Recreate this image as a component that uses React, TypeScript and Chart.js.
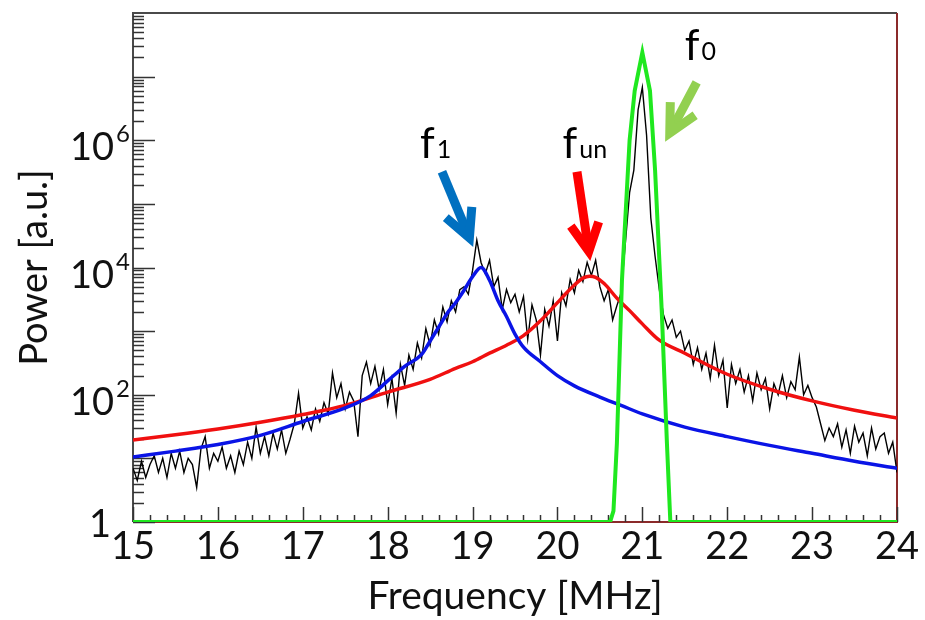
import React, { useEffect, useRef } from "react";
import { Chart, registerables } from "chart.js";

Chart.register(...registerables);

// ---------- axis ranges & tick labels ----------
const FREQ_MIN = 15;
const FREQ_MAX = 24;
const POWER_MIN = 1;
const POWER_MAX = 1e8;
const Y_LABEL_VALUES = [1, 1e2, 1e4, 1e6];
const Y_LABEL_BASES = ["1", "10", "10", "10"];
const Y_LABEL_EXPONENTS = ["", "2", "4", "6"];

// ---------- measured spectrum (black), sampled every 0.05 MHz from 15 MHz ----------
const SPECTRUM_START = 15;
const SPECTRUM_STEP = 0.05;
const SPECTRUM_POWER = [
  7, 4.5, 9, 5, 8, 11, 6, 10, 5, 12,
  7, 13, 6, 10, 8, 3.5, 14, 22, 7, 12,
  9, 15, 7, 11, 6, 13, 8, 18, 10, 31,
  12, 22, 11, 25, 14, 28, 12, 20, 35, 106,
  30, 45, 28, 60, 38, 75, 50, 220, 90, 150,
  60, 110, 80, 22, 200, 326, 150, 280, 120, 250,
  70, 180, 51, 300, 140, 420, 250, 650, 380, 1100,
  600, 1500, 900, 2400, 1400, 3000, 2000, 4500, 5000, 3800,
  9000, 27000, 12000, 8000, 13000, 5000, 7000, 2200, 4500, 2800,
  3800, 2000, 3500, 750, 2600, 1500, 420, 2200, 1200, 3000,
  700, 4000, 2500, 6500, 4000, 9000, 6000, 12000, 7500, 13000,
  5000, 3000, 4500, 1500, 2500, 4000, 24000, 150000, 340000, 3000000,
  6800000, 1200000, 60000, 15000, 4500, 1800, 1100, 1500, 800, 1000,
  500, 700, 300, 550, 250, 450, 180, 600, 200, 350,
  62, 300, 150, 250, 110, 200, 80, 220, 120, 180,
  60, 150, 100, 200, 90, 160, 120, 390, 100, 140,
  90, 64, 35, 19, 30, 22, 35, 15, 28, 12,
  32, 18, 25, 11, 30, 14, 22, 25, 12, 18,
  6,
];

// ---------- fit f_un (red) ----------
const FIT_UN_FREQ = [15, 15.5, 16, 16.5, 17, 17.5, 18, 18.5, 18.8, 19, 19.2, 19.4, 19.6, 19.8, 20, 20.1, 20.2, 20.3, 20.38, 20.45, 20.55, 20.7, 20.85, 21, 21.2, 21.5, 22, 22.5, 23, 23.5, 24];
const FIT_UN_POWER = [19.5, 23.5, 29, 37, 49, 68, 110, 175, 260, 330, 450, 600, 850, 1450, 2800, 3900, 5300, 6800, 7300, 7000, 5600, 3300, 2100, 1300, 720, 450, 210, 122, 80, 57, 43];

// ---------- fit f1 (blue) ----------
const FIT_1_FREQ = [15, 15.5, 16, 16.5, 17, 17.5, 17.8, 18, 18.2, 18.4, 18.5, 18.6, 18.7, 18.8, 18.9, 19, 19.1, 19.2, 19.3, 19.4, 19.5, 19.6, 19.8, 20, 20.2, 20.5, 20.75, 21, 21.5, 22, 22.5, 23, 23.5, 24];
const FIT_1_POWER = [10.5, 13, 16.5, 23, 38, 62, 97, 165, 280, 430, 700, 1150, 1900, 2800, 4400, 7200, 10000, 6300, 3000, 1700, 900, 560, 330, 200, 138, 92, 68, 50, 31, 22, 16, 12, 9, 7];

// ---------- f0 line (green) ----------
const F0_FREQ = [15, 20.62, 20.66, 20.7, 20.76, 20.85, 20.91, 21.0, 21.09, 21.15, 21.23, 21.29, 21.33, 24];
const F0_POWER = [1, 1, 1.5, 17, 6300, 1e6, 6e6, 2.4e7, 6e6, 3.4e5, 1900, 17, 1, 1];

// ---------- annotations ----------
const ANNOT_LABELS = [
  { base: "f", sub: "1", freq: 18.38, power: 5.2e5 },
  { base: "f", sub: "un", freq: 20.06, power: 5.2e5 },
  { base: "f", sub: "0", freq: 21.5, power: 1.8e7 },
];
const ANNOT_ARROWS = [
  { fromF: 18.64, fromP: 3.2e5, toF: 18.99, toP: 2.4e4, color: "#0070C0" },
  { fromF: 20.23, fromP: 3.2e5, toF: 20.38, toP: 1.45e4, color: "#FF0000" },
  { fromF: 21.64, fromP: 8.1e6, toF: 21.29, toP: 1.07e6, color: "#92D050" },
];

const FONT = "Lato, 'Open Sans', 'DejaVu Sans', sans-serif";

function zip(xs: number[], ys: number[]) {
  return xs.map((x, i) => ({ x, y: ys[i] }));
}

const framePlugin = {
  id: "frameTicks",
  beforeDatasetsDraw(chart: any) {
    const { ctx, chartArea, scales } = chart;
    const { left, right, top, bottom } = chartArea;
    const xs = scales.x;
    const ys = scales.y;
    ctx.save();
    // frame
    ctx.lineWidth = 2;
    ctx.strokeStyle = "#4a4a4a";
    ctx.beginPath();
    ctx.moveTo(left, bottom);
    ctx.lineTo(left, top);
    ctx.lineTo(right, top);
    ctx.stroke();
    ctx.strokeStyle = "#8b2a2a";
    ctx.beginPath();
    ctx.moveTo(right, top);
    ctx.lineTo(right, bottom);
    ctx.lineTo(left, bottom);
    ctx.stroke();
    // x ticks (inward)
    ctx.strokeStyle = "#333";
    ctx.lineWidth = 1.5;
    for (let i = 0; i <= 45; i++) {
      const v = FREQ_MIN + i * 0.2;
      const px = Math.round(xs.getPixelForValue(v)) + 0.5;
      const len = i % 5 === 0 ? 15 : 7;
      ctx.beginPath();
      ctx.moveTo(px, bottom);
      ctx.lineTo(px, bottom - len);
      ctx.stroke();
    }
    // y ticks (inward)
    for (let d = 0; d < 8; d++) {
      for (let m = 1; m <= 9; m++) {
        const v = m * Math.pow(10, d);
        const py = Math.round(ys.getPixelForValue(v)) + 0.5;
        const len = m === 1 ? 22 : 11;
        ctx.beginPath();
        ctx.moveTo(left, py);
        ctx.lineTo(left + len, py);
        ctx.stroke();
      }
    }
    ctx.restore();
  },
  afterDraw(chart: any) {
    const { ctx, chartArea, scales } = chart;
    const xs = scales.x;
    const ys = scales.y;
    ctx.save();
    // y tick labels with exponents
    ctx.fillStyle = "#111";
    Y_LABEL_VALUES.forEach((v, i) => {
      const py = ys.getPixelForValue(v);
      const base = Y_LABEL_BASES[i];
      const exp = Y_LABEL_EXPONENTS[i];
      ctx.textBaseline = "alphabetic";
      if (!exp) {
        ctx.font = `38px ${FONT}`;
        ctx.textAlign = "right";
        ctx.fillText(base, chartArea.left - 22, py + 15);
      } else {
        ctx.font = `38px ${FONT}`;
        ctx.textAlign = "right";
        ctx.fillText(base, chartArea.left - 19, py + 20);
        ctx.font = `24px ${FONT}`;
        ctx.textAlign = "left";
        ctx.fillText(exp, chartArea.left - 17, py + 2);
      }
    });
    // arrows
    ANNOT_ARROWS.forEach((a) => {
      const x1 = xs.getPixelForValue(a.fromF);
      const y1 = ys.getPixelForValue(a.fromP);
      let x2 = xs.getPixelForValue(a.toF);
      let y2 = ys.getPixelForValue(a.toP);
      const ang = Math.atan2(y1 - y2, x1 - x2);
      // pull the tip back so the mitred point lands on target
      x2 += 6 * Math.cos(ang);
      y2 += 6 * Math.sin(ang);
      const L = 31;
      const spread = (27 * Math.PI) / 180;
      ctx.strokeStyle = a.color;
      ctx.lineWidth = 9;
      ctx.lineCap = "butt";
      ctx.lineJoin = "miter";
      ctx.beginPath();
      ctx.moveTo(x1, y1);
      ctx.lineTo(x2, y2);
      ctx.stroke();
      ctx.beginPath();
      ctx.moveTo(x2 + L * Math.cos(ang + spread), y2 + L * Math.sin(ang + spread));
      ctx.lineTo(x2, y2);
      ctx.lineTo(x2 + L * Math.cos(ang - spread), y2 + L * Math.sin(ang - spread));
      ctx.stroke();
    });
    // labels f1, fun, f0
    ctx.fillStyle = "#000";
    ctx.textAlign = "left";
    ctx.textBaseline = "alphabetic";
    ANNOT_LABELS.forEach((l) => {
      const px = xs.getPixelForValue(l.freq);
      const py = ys.getPixelForValue(l.power);
      ctx.font = `42px ${FONT}`;
      ctx.fillText(l.base, px, py);
      const w = ctx.measureText(l.base).width;
      ctx.font = `25px ${FONT}`;
      ctx.fillText(l.sub, px + w + 2, py);
    });
    ctx.restore();
  },
};

export default function App() {
  const canvasRef = useRef<HTMLCanvasElement | null>(null);

  useEffect(() => {
    const canvas = canvasRef.current;
    if (!canvas) return;
    const spectrum = SPECTRUM_POWER.map((p, i) => ({
      x: +(SPECTRUM_START + i * SPECTRUM_STEP).toFixed(2),
      y: p,
    }));
    const chart = new Chart(canvas, {
      type: "line",
      data: {
        datasets: [
          {
            label: "f0",
            data: zip(F0_FREQ, F0_POWER),
            borderColor: "#1fe81f",
            borderWidth: 4,
            pointRadius: 0,
            tension: 0,
            order: 0,
          },
          {
            label: "f1 fit",
            data: zip(FIT_1_FREQ, FIT_1_POWER),
            borderColor: "#0a14e6",
            borderWidth: 3.5,
            pointRadius: 0,
            cubicInterpolationMode: "monotone",
            order: 1,
          },
          {
            label: "fun fit",
            data: zip(FIT_UN_FREQ, FIT_UN_POWER),
            borderColor: "#f01010",
            borderWidth: 3.5,
            pointRadius: 0,
            cubicInterpolationMode: "monotone",
            order: 2,
          },
          {
            label: "spectrum",
            data: spectrum,
            borderColor: "#000000",
            borderWidth: 1.4,
            pointRadius: 0,
            tension: 0,
            order: 3,
          },
        ],
      },
      options: {
        animation: false,
        responsive: false,
        maintainAspectRatio: false,
        devicePixelRatio: 1,
        layout: { padding: { top: 13, right: 28, left: 0, bottom: 0 } },
        plugins: {
          legend: { display: false },
          tooltip: { enabled: false },
          title: { display: false },
        },
        scales: {
          x: {
            type: "linear",
            min: FREQ_MIN,
            max: FREQ_MAX,
            grid: { display: false, drawTicks: false },
            border: { display: false },
            ticks: {
              stepSize: 1,
              color: "#111",
              font: { family: FONT, size: 38 },
              padding: 2,
              maxRotation: 0,
              autoSkip: false,
            },
            title: {
              display: true,
              text: "Frequency [MHz]",
              color: "#111",
              font: { family: FONT, size: 39 },
              padding: { top: 0, bottom: 0 },
            },
            afterFit: (scale: any) => {
              scale.height = 98;
            },
          },
          y: {
            type: "logarithmic",
            min: POWER_MIN,
            max: POWER_MAX,
            grid: { display: false, drawTicks: false },
            border: { display: false },
            ticks: { display: false },
            title: {
              display: true,
              text: "Power [a.u.]",
              color: "#111",
              font: { family: FONT, size: 38 },
              padding: { top: 12, bottom: 0 },
            },
            afterFit: (scale: any) => {
              scale.width = 133;
            },
          },
        },
      },
      plugins: [framePlugin],
    });
    return () => chart.destroy();
  }, []);

  return (
    <div style={{ position: "absolute", left: 0, top: 0, width: 925, height: 620, background: "#fff" }}>
      <canvas ref={canvasRef} width={925} height={620} style={{ display: "block" }} />
    </div>
  );
}
